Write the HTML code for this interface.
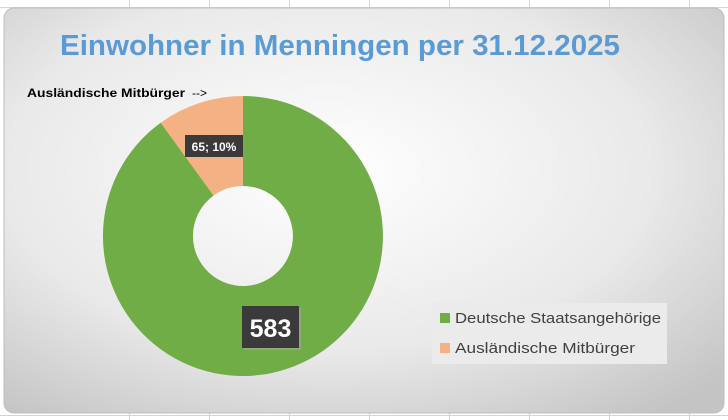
<!DOCTYPE html>
<html><head><meta charset="utf-8"><style>
html,body{margin:0;padding:0;background:#fff;}
svg{display:block;font-family:"Liberation Sans",sans-serif;}
</style></head><body>
<svg width="728" height="420" viewBox="0 0 728 420" xmlns="http://www.w3.org/2000/svg">
<defs>
<radialGradient id="bg" cx="0.45" cy="0.4" r="0.75">
<stop offset="0" stop-color="#ffffff"/>
<stop offset="0.6" stop-color="#e9e9e9"/>
<stop offset="1" stop-color="#c4c4c4"/>
</radialGradient>
</defs>
<g stroke="#d4d4d4" stroke-width="1">
<line x1="129.5" y1="0" x2="129.5" y2="420"/><line x1="209.5" y1="0" x2="209.5" y2="420"/>
<line x1="289.5" y1="0" x2="289.5" y2="420"/><line x1="369.5" y1="0" x2="369.5" y2="420"/>
<line x1="449.5" y1="0" x2="449.5" y2="420"/><line x1="529.5" y1="0" x2="529.5" y2="420"/>
<line x1="609.5" y1="0" x2="609.5" y2="420"/><line x1="689.5" y1="0" x2="689.5" y2="420"/>
<line x1="0" y1="7.5" x2="728" y2="7.5"/><line x1="0" y1="415.5" x2="728" y2="415.5"/>
</g>
<rect x="4" y="8" width="720" height="405" rx="10" fill="url(#bg)" stroke="#bdbdbd"/>
<text x="340" y="55" text-anchor="middle" font-size="29" font-weight="bold" fill="#5b9bd5" textLength="560" lengthAdjust="spacingAndGlyphs">Einwohner in Menningen per 31.12.2025</text>
<text x="27" y="97" font-size="12" font-weight="bold" fill="#000" textLength="158" lengthAdjust="spacingAndGlyphs">Ausländische Mitbürger</text>
<text x="192" y="97" font-size="12" fill="#000">--&gt;</text>
<path d="M243,96 A140,140 0 1 1 160.7,122.7 L213.6,195.5 A50,50 0 1 0 243,186 Z" fill="#70ad47"/>
<path d="M243,96 L243,186 A50,50 0 0 0 213.6,195.5 L160.7,122.7 A140,140 0 0 1 243,96 Z" fill="#f4b183"/>
<rect x="244" y="308" width="57" height="42" fill="#aaa" opacity="0.5"/>
<rect x="242" y="306" width="57" height="42" fill="#3a3a3a"/>
<text x="270.5" y="337" text-anchor="middle" font-size="25" font-weight="bold" fill="#fff">583</text>
<rect x="185" y="135" width="58" height="22" fill="#3a3a3a"/>
<text x="214" y="151" text-anchor="middle" font-size="12" font-weight="bold" fill="#fff">65; 10%</text>
<rect x="432" y="303" width="235" height="61" fill="#ebebeb"/>
<rect x="440" y="313" width="10" height="10" fill="#70ad47"/>
<text x="455" y="323" font-size="15" fill="#404040" textLength="206" lengthAdjust="spacingAndGlyphs">Deutsche Staatsangehörige</text>
<rect x="440" y="343" width="10" height="10" fill="#f4b183"/>
<text x="455" y="353" font-size="15" fill="#404040" textLength="180" lengthAdjust="spacingAndGlyphs">Ausländische Mitbürger</text>
</svg>
</body></html>
